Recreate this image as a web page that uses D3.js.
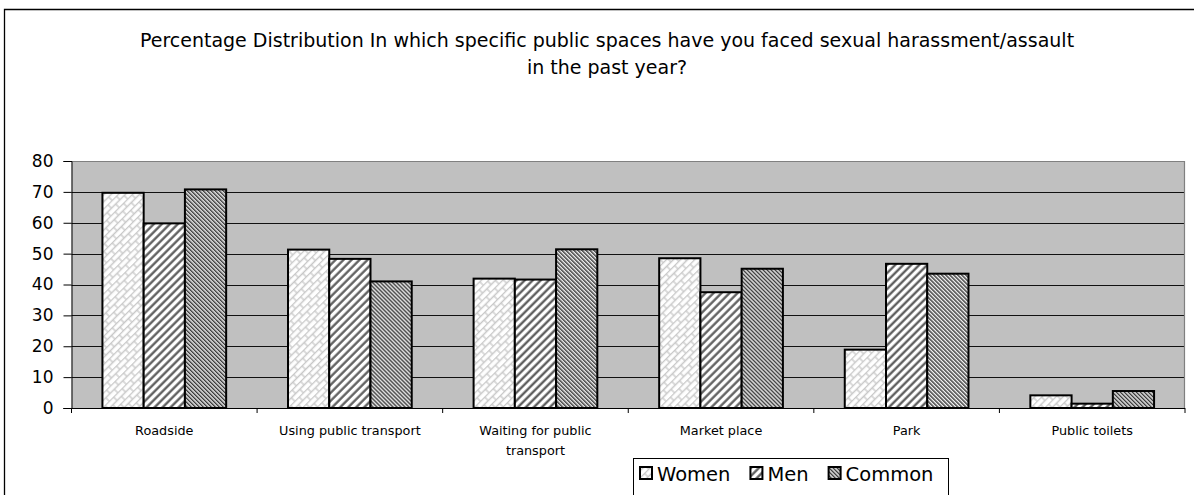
<!DOCTYPE html>
<html>
<head>
<meta charset="utf-8">
<script src="https://cdn.jsdelivr.net/npm/d3@7"></script>
<style>
  body { margin: 0; background: #fff; }
  svg { display: block; font-family: "DejaVu Sans", Verdana, sans-serif; }
</style>
</head>
<body>
<svg id="chart" width="1194" height="495"></svg>
<script>
// data
var categories = ["Roadside", "Using public transport", "Waiting for public transport", "Market place", "Park", "Public toilets"];
var seriesNames = ["Women", "Men", "Common"];
var women = [69.7, 51.3, 41.9, 48.5, 18.9, 4.1];
var men = [59.8, 48.3, 41.6, 37.5, 46.7, 1.4];
var common = [70.8, 41.0, 51.4, 45.1, 43.5, 5.5];
var yTicks = [0, 10, 20, 30, 40, 50, 60, 70, 80];
var titleLines = ["Percentage Distribution In which specific public spaces have you faced sexual harassment/assault", "in the past year?"];

var values = [women, men, common];
var svg = d3.select("#chart");
var W = 1194, H = 495;
var plotLeft = 71.5, plotRight = 1185, plotTop = 161, plotBottom = 408;

svg.append("rect").attr("width", W).attr("height", H).attr("fill", "#fff");

// patterns
var defs = svg.append("defs");
var pw = defs.append("pattern").attr("id", "pat-women").attr("patternUnits", "userSpaceOnUse")
  .attr("width", 12).attr("height", 10).attr("patternTransform", "rotate(-45)");
pw.append("rect").attr("width", 12).attr("height", 10).attr("fill", "#fff");
pw.append("path").attr("d", "M0,0.5H12M0,5.5H12M1,0.5V5.5M7,5.5V10.5")
  .attr("stroke", "#c8c8c8").attr("stroke-width", 1.3).attr("fill", "none");

var pm = defs.append("pattern").attr("id", "pat-men").attr("patternUnits", "userSpaceOnUse")
  .attr("width", 5.66).attr("height", 10).attr("patternTransform", "rotate(45)");
pm.append("rect").attr("width", 5.66).attr("height", 10).attr("fill", "#fff");
pm.append("rect").attr("x", 0.4).attr("width", 2.2).attr("height", 10).attr("fill", "#555");

var pc = defs.append("pattern").attr("id", "pat-common").attr("patternUnits", "userSpaceOnUse")
  .attr("width", 2.83).attr("height", 10).attr("patternTransform", "rotate(-45)");
pc.append("rect").attr("width", 2.83).attr("height", 10).attr("fill", "#f0f0f0");
pc.append("rect").attr("width", 1.4).attr("height", 10).attr("fill", "#3a3a3a");

var fills = ["url(#pat-women)", "url(#pat-men)", "url(#pat-common)"];

// outer chart border
svg.append("path").attr("d", "M4.5," + H + "V9.5H" + W)
  .attr("fill", "none").attr("stroke", "#000").attr("stroke-width", 1.3);

// title
svg.append("g").selectAll("text").data(titleLines).join("text")
  .attr("x", 607).attr("y", function(d, i) { return 47 + i * 27; })
  .attr("text-anchor", "middle").attr("font-size", 19).attr("fill", "#000")
  .text(function(d) { return d; });

var x0 = d3.scaleBand().domain(categories).range([plotLeft, plotRight]);
var gw = x0.bandwidth();
var x1 = d3.scaleBand().domain(seriesNames).range([gw * 0.75 / 4.5, gw * 3.75 / 4.5]);
var y = d3.scaleLinear().domain([0, 80]).range([plotBottom, plotTop]);

// plot background
svg.append("rect").attr("x", plotLeft).attr("y", plotTop).attr("width", plotRight - plotLeft).attr("height", plotBottom - plotTop)
  .attr("fill", "#c0c0c0");

// gridlines
svg.append("g").selectAll("line").data(yTicks.filter(function(t) { return t > 0 && t < 80; })).join("line")
  .attr("x1", plotLeft).attr("x2", plotRight)
  .attr("y1", function(d) { return Math.round(y(d)) + 0.5; })
  .attr("y2", function(d) { return Math.round(y(d)) + 0.5; })
  .attr("stroke", "#111").attr("stroke-width", 1);
svg.append("path").attr("d", "M" + plotLeft + "," + (plotTop + 0.5) + "H" + (plotRight - 0.5) + "V" + plotBottom)
  .attr("fill", "none").attr("stroke", "#808080").attr("stroke-width", 1.2);

// bars
var groups = svg.append("g").selectAll("g").data(categories).join("g")
  .attr("transform", function(d) { return "translate(" + x0(d) + ",0)"; });
groups.selectAll("rect").data(function(d, i) {
    return seriesNames.map(function(s, j) { return { s: s, v: values[j][i], j: j }; });
  }).join("rect")
  .attr("x", function(d) { return x1(d.s); })
  .attr("width", x1.bandwidth())
  .attr("y", function(d) { return y(d.v); })
  .attr("height", function(d) { return plotBottom - y(d.v); })
  .attr("fill", function(d) { return fills[d.j]; })
  .attr("stroke", "#000").attr("stroke-width", 2);

// y axis
var yAxis = svg.append("g").attr("transform", "translate(" + plotLeft + ",0)")
  .call(d3.axisLeft(y).tickValues(yTicks).tickSize(8).tickPadding(10));
yAxis.select(".domain").attr("stroke", "#000");
yAxis.selectAll("text").attr("font-size", 17).attr("font-family", "DejaVu Sans").attr("fill", "#000");

// x axis: ticks between groups
var xAxisG = svg.append("g");
xAxisG.append("line").attr("x1", plotLeft - 8).attr("x2", plotRight).attr("y1", plotBottom + 0.5).attr("y2", plotBottom + 0.5)
  .attr("stroke", "#000");
var bounds = categories.map(function(c) { return x0(c); }).concat([plotRight]);
xAxisG.selectAll("line.tk").data(bounds).join("line").attr("class", "tk")
  .attr("x1", function(d) { return d; }).attr("x2", function(d) { return d; })
  .attr("y1", plotBottom).attr("y2", plotBottom + 5).attr("stroke", "#000");

// x labels, wrapped like the original
var labelLines = {
  "Waiting for public transport": ["Waiting for public", "transport"]
};
xAxisG.selectAll("text").data(categories).join("text")
  .attr("x", function(d) { return x0(d) + gw / 2; })
  .attr("y", 435).attr("text-anchor", "middle").attr("font-size", 12.8).attr("fill", "#000")
  .each(function(d) {
    var lines = labelLines[d] || [d];
    var t = d3.select(this);
    lines.forEach(function(l, i) {
      t.append("tspan").attr("x", x0(d) + gw / 2).attr("dy", i ? 20 : 0).text(l);
    });
  });

// legend
var lg = svg.append("g");
lg.append("rect").attr("x", 633.5).attr("y", 458.5).attr("width", 315).attr("height", 60)
  .attr("fill", "#fff").attr("stroke", "#000");
var lx = 640;
seriesNames.forEach(function(s, j) {
  lg.append("rect").attr("x", lx).attr("y", 467).attr("width", 12).attr("height", 12)
    .attr("fill", fills[j]).attr("stroke", "#000").attr("stroke-width", 2);
  var t = lg.append("text").attr("x", lx + 17).attr("y", 480.5).attr("font-size", 19.5).attr("fill", "#000").text(s);
  lx += 17 + t.node().getComputedTextLength() + 20;
});
</script>
</body>
</html>
